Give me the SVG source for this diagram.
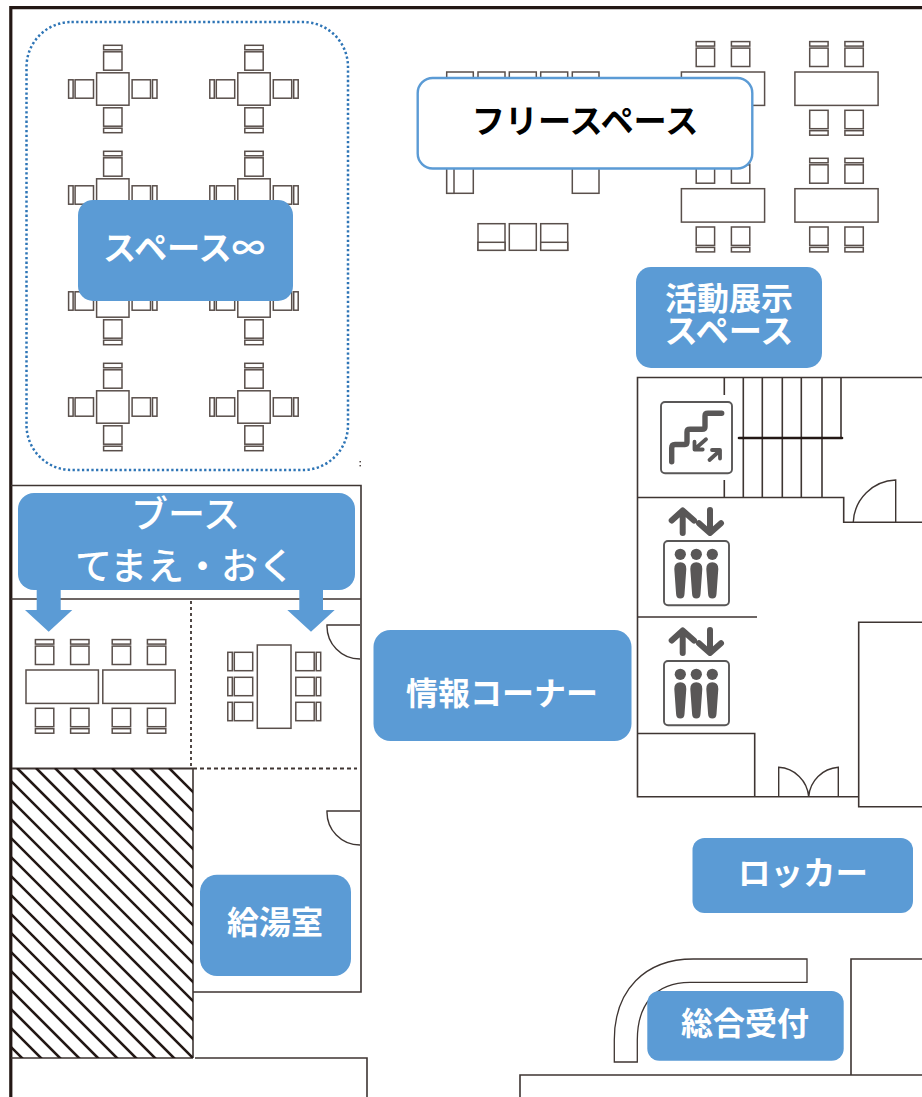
<svg xmlns="http://www.w3.org/2000/svg" xmlns:xlink="http://www.w3.org/1999/xlink" width="922" height="1097" viewBox="0 0 922 1097">
<style>
.f{fill:#fff;stroke:#594f4b;stroke-width:1.5}
.w{fill:none;stroke:#3e3532;stroke-width:1.6}
.ic{fill:none;stroke:#595757;stroke-linecap:round;stroke-linejoin:round}
.lab{fill:#5b9bd5}
.t{font-family:"Noto Sans CJK JP","Noto Sans CJK SC",sans-serif;font-weight:700;font-size:32px;fill:#fff;text-anchor:middle}
.k{font-size:33.2px}
.l{font-size:32.5px}
.b{font-weight:500;font-size:37px}
</style>
<defs>
<clipPath id="hc"><rect x="12" y="768" width="181" height="290"/></clipPath>
<g id="ch"><rect class="f" x="-9.2" y="-9.2" width="18.4" height="18.4"/><rect class="f" x="-9.2" y="-15.7" width="18.4" height="4.5"/></g>
<g id="t4"><use href="#ch" transform="translate(0,-28)"/><use href="#ch" transform="translate(0,28) rotate(180)"/><use href="#ch" transform="translate(-28.5,0) rotate(-90)"/><use href="#ch" transform="translate(28.5,0) rotate(90)"/><rect class="f" x="-16.2" y="-16.2" width="32.4" height="32.4"/></g>
<g id="t2c"><use href="#ch" transform="translate(-17.6,-31.4)"/><use href="#ch" transform="translate(17.6,-31.4)"/><use href="#ch" transform="translate(-17.6,30.8) rotate(180)"/><use href="#ch" transform="translate(17.6,30.8) rotate(180)"/></g>
<g id="t2"><use href="#t2c"/><rect class="f" x="-41.6" y="-16.7" width="83.2" height="33.4"/></g>
<g id="t2b"><use href="#t2c"/><rect class="f" x="-36.2" y="-16.7" width="72.4" height="33.4"/></g>
<g id="elev">
<path class="ic" stroke-width="6" d="M682.7 533V511M671.7 520.5L682.7 510.5L694 520.5M710 510V532M699 523.3L710 533L721 523.3"/>
<rect x="664" y="541" width="65" height="64.3" rx="4" fill="#fff" stroke="#595757" stroke-width="1.9"/>
<g fill="#595757"><circle cx="680.3" cy="554.3" r="5.6"/><circle cx="696.3" cy="554.3" r="5.6"/><circle cx="712.3" cy="554.3" r="5.6"/>
<path d="M674.3 569Q674.3 562.3 680.3 562.3Q686.3 562.3 686.3 569L684.5 594Q684.3 598.5 680.3 598.5Q676.3 598.5 676.1 594Z"/>
<path d="M690.3 569Q690.3 562.3 696.3 562.3Q702.3 562.3 702.3 569L700.5 594Q700.3 598.5 696.3 598.5Q692.3 598.5 692.1 594Z"/>
<path d="M706.3 569Q706.3 562.3 712.3 562.3Q718.3 562.3 718.3 569L716.5 594Q716.3 598.5 712.3 598.5Q708.3 598.5 708.1 594Z"/></g>
</g>
</defs>
<rect width="922" height="1097" fill="#fff"/>
<g id="walls">
<path d="M922 7.7H10.8V1097" fill="none" stroke="#231815" stroke-width="3.2"/>
<path class="w" d="M11 485.5H361V992H193M11 599H361M193 768V1058M11 1058H193M195 1058H367V1097"/>
<path d="M12 768.5H193" fill="none" stroke="#3e3532" stroke-width="1.8"/>
<path d="M191 601V768" fill="none" stroke="#3e3532" stroke-width="1.8" stroke-dasharray="3 3"/>
<path d="M193 768.5H357" fill="none" stroke="#3e3532" stroke-width="1.8" stroke-dasharray="4 3"/>
<path class="w" stroke-width="1.4" style="stroke-width:1.4" d="M360 625H327A33 33 0 0 0 360 659M360 811H327A33 33 0 0 0 360 845"/>
<path class="w" d="M922 377.5H637.5V796.7H858M637 497.5H843.7V522.3H922M637 617H757M637 733.5H754.7V796.7"/>
<path class="w" d="M724.3 377V395M724.3 480V497M743.3 377V497M762.3 377V497M782.3 377V497M801.3 377V497M822 377V497M841 377V438"/>
<path d="M739 438H842" fill="none" stroke="#231815" stroke-width="2.6" stroke-linecap="round"/>
<path class="w" style="stroke-width:1.4" d="M895.7 522V480A44 44 0 0 0 853.3 522"/>
<path class="w" style="stroke-width:1.4" d="M778.7 796.7V767.3A32 32 0 0 1 808.7 796.7A32 32 0 0 1 838.3 767.3V796.7"/>
<path class="w" d="M922 622.3H858.7V806.7H922"/>
<path class="w" style="stroke-width:1.3" d="M614.3 1062V1040C614.3 990 645 959 693.3 959H807V982.3H690C655 982.3 637.3 1005 637.3 1040V1062Z"/>
<path class="w" d="M922 959H851V1075M922 1075H520V1097"/>
<path clip-path="url(#hc)" fill="none" stroke="#231815" stroke-width="2.6" d="M-287 768l310 310M-268 768l310 310M-249 768l310 310M-230 768l310 310M-211 768l310 310M-192 768l310 310M-173 768l310 310M-154 768l310 310M-135 768l310 310M-116 768l310 310M-97 768l310 310M-78 768l310 310M-59 768l310 310M-40 768l310 310M-21 768l310 310M-2 768l310 310M17 768l310 310M36 768l310 310M55 768l310 310M74 768l310 310M93 768l310 310M112 768l310 310M131 768l310 310M150 768l310 310M169 768l310 310"/>
<rect x="359.5" y="461" width="1.4" height="1.4" fill="#3e3532"/><rect x="359.5" y="465" width="1.4" height="1.4" fill="#3e3532"/>
</g>
<g id="space-inf-zone"><rect x="26.5" y="22" width="321.5" height="448" rx="45" fill="none" stroke="#2e75b6" stroke-width="2.5" stroke-dasharray="2.3 2.4"/></g>
<g id="furniture">
<use href="#t4" x="112.8" y="89"/><use href="#t4" x="254" y="89"/>
<use href="#t4" x="112.8" y="195"/><use href="#t4" x="254" y="195"/>
<use href="#t4" x="112.8" y="301"/><use href="#t4" x="254" y="301"/>
<use href="#t4" x="112.8" y="407"/><use href="#t4" x="254" y="407"/>
<use href="#t2" x="723" y="88.7"/><use href="#t2" x="836.5" y="88.7"/>
<use href="#t2" x="723" y="205.4"/><use href="#t2" x="836.5" y="205.4"/>
<use href="#t2b" x="62.2" y="686.7"/><use href="#t2b" x="139" y="686.7"/>
<g class="f"><rect x="446.7" y="72" width="26.6" height="26.6"/><rect x="478" y="72" width="27" height="26.6"/><rect x="509.3" y="72" width="27" height="26.6"/><rect x="540.7" y="72" width="27" height="26.6"/><rect x="572.3" y="72" width="26.7" height="26.6"/>
<rect x="446.7" y="166" width="26.6" height="27.3"/><rect x="446.7" y="166" width="7.3" height="27.3"/><rect x="572.3" y="166" width="26.7" height="27.3"/>
<rect x="478" y="223.7" width="27" height="26.6"/><rect x="478" y="242.3" width="27" height="8"/><rect x="509.3" y="223.7" width="27" height="26.6"/><rect x="540.7" y="223.7" width="27" height="26.6"/><rect x="540.7" y="242.3" width="27" height="8"/></g>
<use href="#ch" transform="translate(243.5,661.5) rotate(-90)"/><use href="#ch" transform="translate(243.5,686.5) rotate(-90)"/><use href="#ch" transform="translate(243.5,711.5) rotate(-90)"/>
<use href="#ch" transform="translate(305,661.5) rotate(90)"/><use href="#ch" transform="translate(305,686.5) rotate(90)"/><use href="#ch" transform="translate(305,711.5) rotate(90)"/>
<rect class="f" x="257.3" y="645" width="33.7" height="83.3"/>
</g>
<g id="stair-icon">
<rect x="661" y="402" width="71" height="71.3" rx="4" fill="#fff" stroke="#595757" stroke-width="1.9"/>
<path class="ic" stroke-width="5.4" d="M671.7 461.7V448Q671.7 444.5 675 444.5H685Q687 444.5 687 442V432Q687 429.3 690 429.3H702Q705 429.3 705 427V416Q705 413.3 708 413.3H721.7"/>
<path class="ic" stroke-width="3.8" d="M706 439.3L695.5 448.5M694.5 441.7V449.5H702.7M709.5 460L720 450.5M712 450H720V458.5"/>
</g>
<g id="elevator-1"><use href="#elev"/></g>
<g id="elevator-2"><use href="#elev" y="120"/></g>
<g id="connectors" fill="#5b9bd5">
<path d="M36.7 588H60.7V610H72.3L48.7 631.7L25 610H36.7Z"/>
<path d="M299.3 588H323V610H334.7L311 631.7L287.3 610H299.3Z"/>
</g>
<g id="space-inf"><rect class="lab" x="78" y="200" width="215" height="101" rx="15"/><text class="t k" x="184" y="260">スペース∞</text></g>
<g id="free-space"><rect x="417.7" y="78" width="334.6" height="90.5" rx="15" fill="#fff" stroke="#5b9bd5" stroke-width="2.4"/><text class="t k" x="585" y="133" style="fill:#000">フリースペース</text></g>
<g id="activity"><rect class="lab" x="636" y="267" width="186" height="101" rx="15"/><text class="t" text-anchor="middle"><tspan x="729" y="310">活動展示</tspan><tspan class="k" x="729" y="343">スペース</tspan></text></g>
<g id="booth"><rect class="lab" x="18" y="493" width="337" height="97" rx="16"/><text class="t b" x="185.5" y="528">ブース</text><text class="t b" x="185" y="580">てまえ・おく</text></g>
<g id="info"><rect class="lab" x="373.5" y="630" width="258" height="111" rx="17"/><text class="t" x="502" y="705">情報コーナー</text></g>
<g id="kitchen"><rect class="lab" x="200" y="874.7" width="151" height="101.3" rx="17"/><text class="t" x="275" y="934">給湯室</text></g>
<g id="locker"><rect class="lab" x="692.5" y="838" width="220.5" height="75" rx="12"/><text class="t l" x="803" y="885">ロッカー</text></g>
<g id="reception"><rect class="lab" x="647.3" y="991" width="196.4" height="69.7" rx="12"/><text class="t" x="745" y="1035">総合受付</text></g>
</svg>
